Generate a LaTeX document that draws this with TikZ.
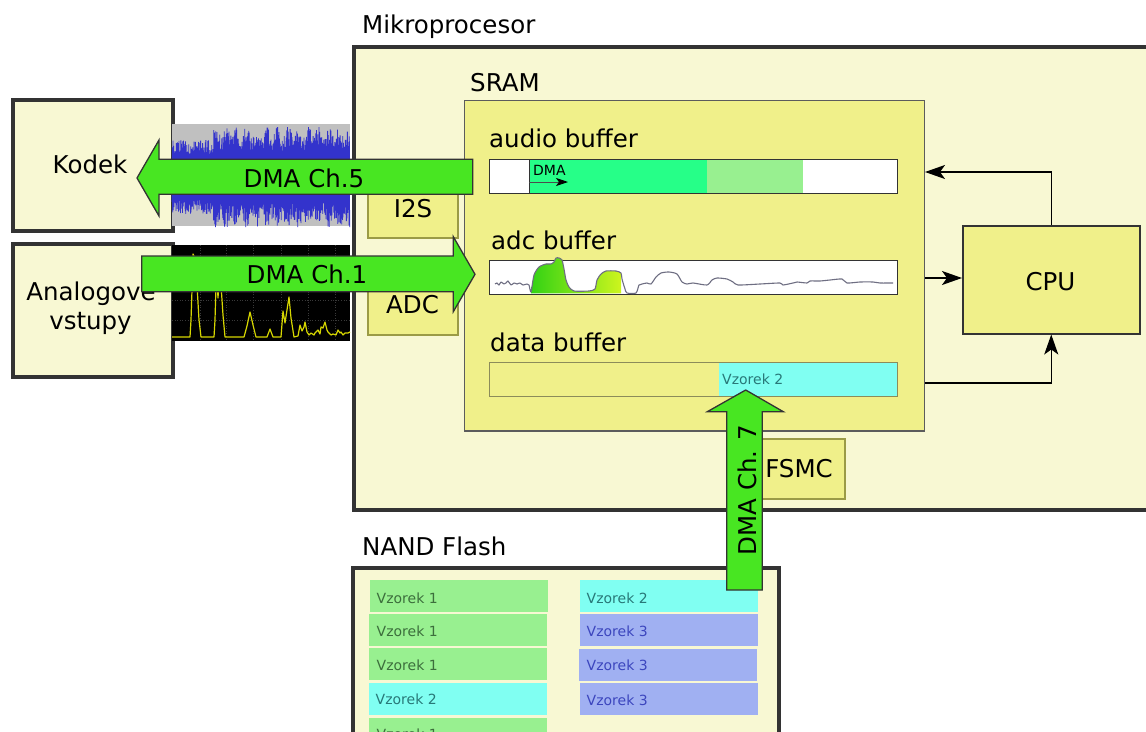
\documentclass[tikz,border=0pt]{standalone}
\usepackage{fontspec}
\setmainfont{DejaVu Sans}
\usetikzlibrary{arrows.meta}
\definecolor{paleyellow}{RGB}{248,248,211}
\definecolor{mykhaki}{RGB}{240,240,138}
\definecolor{olivetwo}{RGB}{155,155,70}
\definecolor{boxline}{RGB}{51,51,51}
\definecolor{dmagreen}{RGB}{72,230,34}
\definecolor{springg}{RGB}{38,255,136}
\definecolor{lightg}{RGB}{152,240,144}
\definecolor{cyanc}{RGB}{128,255,242}
\definecolor{bluec}{RGB}{160,176,242}
\definecolor{noiseblue}{RGB}{51,51,204}
\definecolor{noisegray}{RGB}{192,192,192}
\definecolor{specyellow}{RGB}{215,215,0}
\definecolor{wavegray}{RGB}{110,110,130}
\definecolor{txtgreen}{RGB}{60,110,60}
\definecolor{txtcyan}{RGB}{40,120,120}
\definecolor{txtblue}{RGB}{60,70,190}
\definecolor{gradone}{RGB}{50,210,20}
\definecolor{gradtwo}{RGB}{205,245,30}
\definecolor{databorder}{RGB}{140,140,90}
\tikzset{
  big/.style={font=\fontsize{24.5}{28}\selectfont, inner sep=0pt},
  small/.style={font=\fontsize{14}{17}\selectfont, inner sep=0pt},
  thickbox/.style={draw=boxline, line width=4pt, fill=paleyellow, inner sep=0pt, anchor=north west},
  periph/.style={draw=olivetwo, line width=2pt, fill=mykhaki, inner sep=0pt, anchor=north west},
  thinbox/.style={draw=boxline, line width=1.5pt, fill=mykhaki, inner sep=0pt, anchor=north west},
  barbox/.style={draw=boxline, line width=1.2pt, inner sep=0pt, anchor=north west, minimum width=408pt, minimum height=34pt},
  cellbox/.style={inner sep=0pt, minimum width=178pt, minimum height=32pt, anchor=north west},
  dmaarrow/.style={draw=boxline, line width=1.3pt, fill=dmagreen, line join=miter},
  conn/.style={draw=black, line width=1.5pt, -{Stealth[length=20pt,width=14pt,inset=5pt]}},
}
\begin{document}
\begin{tikzpicture}[x=1pt,y=-1pt]
\useasboundingbox (0,0) rectangle (1146,731);
\clip (0,0) rectangle (1146,731);
\fill[white] (0,0) rectangle (1146,731);

% Mikroprocesor
\node[thickbox, minimum width=830pt, minimum height=463pt] (mikro) at (352,45) {};
\node[big, anchor=base west] (mikrolbl) at (362,33) {Mikroprocesor};

% SRAM and peripherals
\node[thinbox, draw=boxline!80, minimum width=460pt, minimum height=330.5pt] (sram) at (463.5,99.5) {};
\node[big, anchor=base west] (sramlbl) at (470,91) {SRAM};
\node[periph, minimum width=90pt, minimum height=60pt] (i2s) at (367,177) {};
\node[periph, minimum width=90pt, minimum height=60pt] (adc) at (367,274) {};
\node[periph, minimum width=90pt, minimum height=60pt] (fsmc) at (754,438) {};
\node[thinbox, minimum width=177pt, minimum height=108pt] (cpu) at (962,225) {};
\node[big, anchor=base] (cpulbl) at (1050.5,290) {CPU};
\node[big, anchor=base] (i2slbl) at (413,217) {I2S};
\node[big, anchor=base] (adclbl) at (412.5,313) {ADC};
\node[big, anchor=base] (fsmclbl) at (799,477) {FSMC};

% audio buffer
\node[big, anchor=base west] (audiolbl) at (489,147) {audio buffer};
\fill[white] (489,159) rectangle (897,193);
\fill[springg] (529,159) rectangle (707,193);
\fill[lightg] (707,159) rectangle (803,193);
\draw[boxline, line width=0.8pt] (529,159) -- (529,193);
\node[barbox] (audiobar) at (489,159) {};
\node[small, anchor=base west] (dmasmall) at (533,175) {DMA};
\coordinate (dmaS) at (529,182);
\coordinate (dmaE) at (568,182);
\draw[gray!60!black, line width=0.8pt, -{Stealth[length=12pt,width=8pt,inset=3pt,color=black]}] (dmaS) -- (dmaE);

% adc buffer
\node[big, anchor=base west] (adcbuflbl) at (491,249) {adc buffer};
\node[barbox, fill=white] (adcbar) at (489,260) {};
\begin{scope}
\clip plot[smooth, tension=0.5] coordinates {(531,292) (534,275) (539,267) (546,264) (551,264) (554,262) (556,258) (559,258) (562,260) (564,269) (566,280) (569,287) (574,291) (589,291) (595,289) (597,280) (601,274) (606,271) (616,271) (621,273)} -- (621,293.4) -- (531,293.4) -- cycle;
\shade[left color=gradone, right color=gradtwo] (531,255) rectangle (621,294);
\end{scope}
\draw[wavegray, line width=1.1pt, line join=round] plot[smooth, tension=0.4] coordinates {(495,284) (497,283) (499,285) (501,282) (504,284) (506,283) (508,281) (511,285) (514,283) (517,284) (520,283) (523,285) (527,284) (529,285) (531,292) (534,275) (539,267) (546,264) (551,264) (554,262) (556,258) (559,258) (562,260) (564,269) (566,280) (569,287) (574,291) (589,291) (595,289) (597,280) (601,274) (606,271) (616,271) (621,273) (622,279) (625,289) (627,293) (636,293) (639,285) (642,284) (647,283) (651,284) (656,277) (661,273) (669,272) (677,274) (682,282) (687,284) (693,283) (707,285) (712,280) (717,278) (727,279) (733,282) (738,285) (760,284) (780,283) (783,285) (793,283) (797,282) (807,283) (810,281) (820,281) (830,280) (842,279) (847,283) (860,282) (873,282) (880,283) (893,283)};

% data buffer
\node[big, anchor=base west] (datalbl) at (490,351) {data buffer};
\fill[mykhaki] (489,362) rectangle (897,396);
\fill[cyanc] (719,362) rectangle (897,396);
\node[barbox, draw=databorder] (databar) at (489,362) {};
\node[small, anchor=base west, text=txtcyan] (datavz) at (722,384) {Vzorek 2};

% connectors
\coordinate (sramA) at (sram.east |- 0,172);
\coordinate (sramB) at (sram.east |- 0,278);
\coordinate (sramC) at (sram.east |- 0,383);
\draw[conn] (cpu.north) |- (sramA);
\draw[conn] (sramB) -- (sramB -| cpu.west);
\draw[conn] (sramC) -| (cpu.south);

% Kodek and inputs
\node[thickbox, minimum width=159.5pt, minimum height=131pt] (kodek) at (11,98) {};
\node[big, anchor=base] (kodeklbl) at (90,173) {Kodek};
\node[thickbox, minimum width=159.5pt, minimum height=133pt] (analog) at (11,242) {};
\node[big, anchor=base] (analoglblA) at (91,300) {Analogove};
\node[big, anchor=base] (analoglblB) at (90.5,329) {vstupy};

% audio waveform
\fill[noisegray] (172,124) rectangle (350,226);
\pgfmathsetseed{7}
\draw[noiseblue, line width=0.8pt] plot[variable=\t, samples=541, domain=0:540] ({172+\t*0.329},{177+(1-2*mod(round(\t),2))*min(50,((\t<126)*37+(\t>=126)*(47+5*sin(\t*11.5)))*(0.62+0.38*rnd))});

% spectrum
\fill[black] (172,245) rectangle (350,341);
\foreach \gx in {200,226,253,281,308,335} \draw[gray!45!black, dotted, line width=0.6pt] (\gx,245) -- (\gx,341);
\foreach \gy in {260,280,300,320} \draw[gray!45!black, dotted, line width=0.6pt] (172,\gy) -- (350,\gy);
\draw[specyellow, line width=1.2pt, line join=round] plot coordinates {(172,337) (190,337) (191,320) (192,290) (193,254) (195,258) (197,285) (199,320) (201,337) (214,337) (215,320) (216,285) (217,280) (218,298) (219,282) (220,270) (221,285) (223,315) (225,337) (244,337) (247,326) (250,312) (253,325) (256,337) (267,337) (270,329) (273,337) (281,337) (283,311) (285,323) (287,310) (289,297) (291,318) (294,337) (298,336) (300,325) (302,331) (304,327) (305,322) (307,332) (309,335) (311,333) (314,335) (315,333) (318,330) (320,334) (321,327) (323,328) (325,322) (327,330) (328,332) (331,335) (333,334) (336,335) (338,330) (340,333) (341,332) (343,335) (345,333) (348,333) (350,332)};

% NAND Flash
\node[big, anchor=base west] (nandlbl) at (362,555) {NAND Flash};
\node[thickbox, minimum width=426pt, minimum height=250pt] (nand) at (351,565.5) {};
\node[cellbox, fill=lightg] (c11) at (370,580) {};
\node[cellbox, fill=lightg] (c12) at (369,614) {};
\node[cellbox, fill=lightg] (c13) at (369,648) {};
\node[cellbox, fill=cyanc] (c14) at (369,683) {};
\node[cellbox, fill=lightg] (c15) at (369,718) {};
\node[cellbox, fill=cyanc] (c21) at (580,580) {};
\node[cellbox, fill=bluec] (c22) at (580,614) {};
\node[cellbox, fill=bluec] (c23) at (579,649) {};
\node[cellbox, fill=bluec] (c24) at (580,683) {};
\node[small, anchor=base west, text=txtgreen] (t11) at (376.5,603) {Vzorek 1};
\node[small, anchor=base west, text=txtgreen] (t12) at (376.5,636) {Vzorek 1};
\node[small, anchor=base west, text=txtgreen] (t13) at (376.5,670) {Vzorek 1};
\node[small, anchor=base west, text=txtcyan] (t14) at (375.5,704) {Vzorek 2};
\node[small, anchor=base west, text=txtgreen] (t15) at (376.5,739) {Vzorek 1};
\node[small, anchor=base west, text=txtcyan] (t21) at (586.5,603) {Vzorek 2};
\node[small, anchor=base west, text=txtblue] (t22) at (586.5,636) {Vzorek 3};
\node[small, anchor=base west, text=txtblue] (t23) at (586.5,670) {Vzorek 3};
\node[small, anchor=base west, text=txtblue] (t24) at (586.5,705) {Vzorek 3};

% DMA arrows
\draw[dmaarrow] (137,178) -- (159,140) -- (159,159.3) -- (472.7,159.3) -- (472.7,194.3) -- (159,194.3) -- (159,216) -- cycle;
\node[big, anchor=base] (dma5) at (304,187) {DMA Ch.5};
\draw[dmaarrow] (475,274.3) -- (453.3,236.7) -- (453.3,256) -- (141.7,256) -- (141.7,291.7) -- (453.3,291.7) -- (453.3,311.7) -- cycle;
\node[big, anchor=base] (dma1) at (307,283) {DMA Ch.1};
\draw[dmaarrow] (745.7,390) -- (783.3,411.7) -- (762.3,411.7) -- (762.3,590) -- (726.7,590) -- (726.7,411.7) -- (707.3,411.7) -- cycle;
\node[big, anchor=base, rotate=90] (dma7) at (756,490) {DMA Ch. 7};
\end{tikzpicture}
\end{document}
